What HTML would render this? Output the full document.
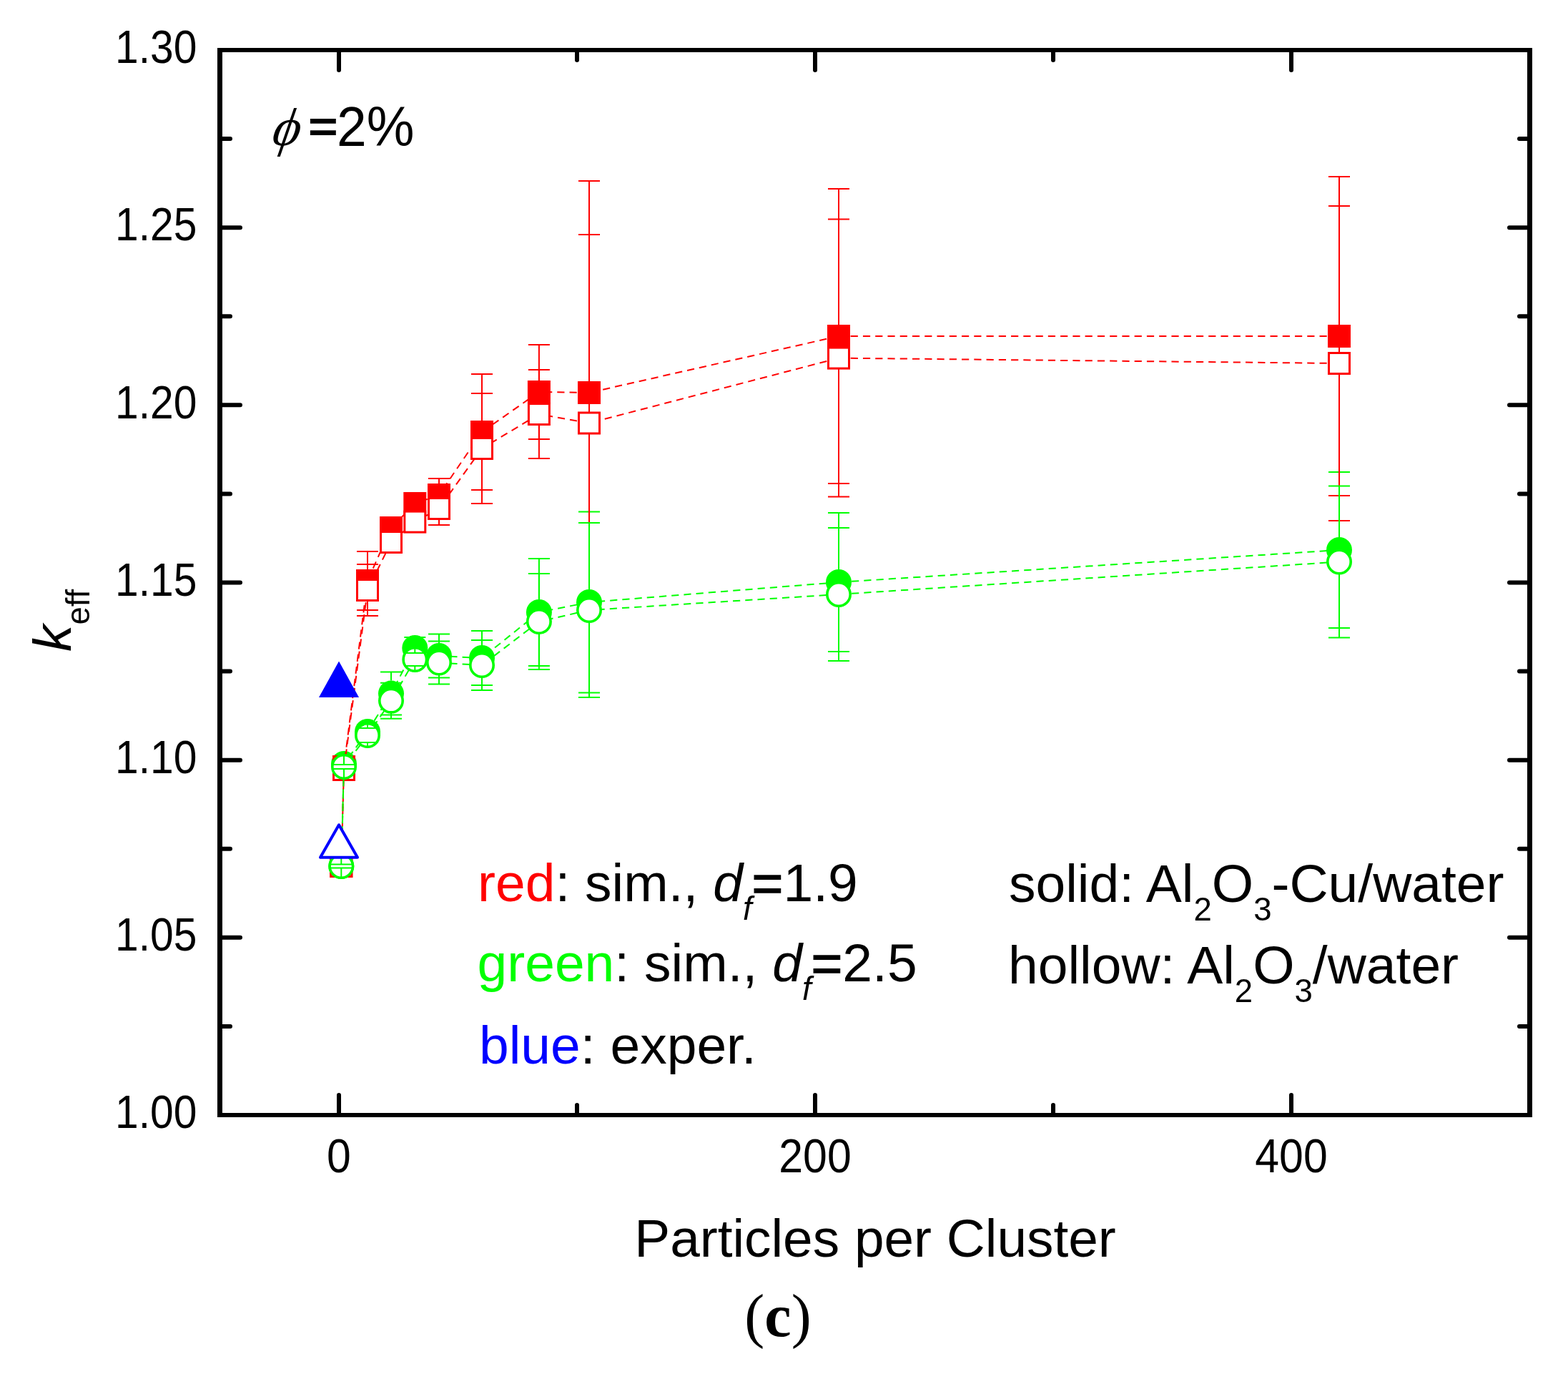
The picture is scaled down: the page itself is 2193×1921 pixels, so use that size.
<!DOCTYPE html>
<html><head><meta charset="utf-8"><title>k_eff vs Particles per Cluster</title>
<style>html,body{margin:0;padding:0;background:#fff;overflow:hidden}svg{display:block}</style>
</head><body>
<svg width="2193" height="1921" viewBox="0 0 2193 1921">
<rect width="2193" height="1921" fill="#fff"/>
<g id="data">
<path d="M481 1068L477.3 1211M514 1023L481 1068M547 969.6L514 1023M580.3 906L547 969.6M614 917L580.3 906M674 920L614 917M753.9 856L674 920M824 842L753.9 856M1173 814L824 842M1873 769L1173 814" fill="none" stroke="#00ff00" stroke-width="2" stroke-dasharray="10.2 7.06"/>
<circle cx="477.3" cy="1211" r="18" fill="#00ff00"/><circle cx="481" cy="1068" r="18" fill="#00ff00"/><circle cx="514" cy="1023" r="18" fill="#00ff00"/><circle cx="547" cy="969.6" r="18" fill="#00ff00"/><circle cx="580.3" cy="906" r="18" fill="#00ff00"/><circle cx="614" cy="917" r="18" fill="#00ff00"/><circle cx="674" cy="920" r="18" fill="#00ff00"/><circle cx="753.9" cy="856" r="18" fill="#00ff00"/><circle cx="824" cy="842" r="18" fill="#00ff00"/><circle cx="1173" cy="814" r="18" fill="#00ff00"/><circle cx="1873" cy="769" r="18" fill="#00ff00"/>
<path d="M477.3 1193V1209M477.3 1229V1213M462.3 1209h30M462.3 1213h30M481 1050V1065M481 1086V1071M466 1065h30M466 1071h30M514 1005V1013M514 1041V1033M499 1013h30M499 1033h30M547 951.6V939.6M547 987.6V999.6M532 939.6h30M532 999.6h30M580.3 888V891M580.3 924V921M565.3 891h30M565.3 921h30M614 899V886.5M614 935V947.5M599 886.5h30M599 947.5h30M674 902V882M674 938V958M659 882h30M659 958h30M753.9 838V781M753.9 874V931M738.9 781h30M738.9 931h30M824 824V715.5M824 860V968.5M809 715.5h30M809 968.5h30M1173 796V717M1173 832V911M1158 717h30M1158 911h30M1873 751V660M1873 787V878M1858 660h30M1858 878h30" fill="none" stroke="#00ff00" stroke-width="2"/>
<path d="M481 1072L477.3 1211M514 812L481 1072M547 738L514 812M580.3 704L547 738M614 692L580.3 704M674 604L614 692M753.9 548L674 604M824 549L753.9 548M1173 470L824 549M1873 470L1173 470" fill="none" stroke="#ff0000" stroke-width="2" stroke-dasharray="10.2 7.06"/>
<rect x="461.3" y="1195" width="32" height="32" fill="#ff0000"/><rect x="465" y="1056" width="32" height="32" fill="#ff0000"/><rect x="498" y="796" width="32" height="32" fill="#ff0000"/><rect x="531" y="722" width="32" height="32" fill="#ff0000"/><rect x="564.3" y="688" width="32" height="32" fill="#ff0000"/><rect x="598" y="676" width="32" height="32" fill="#ff0000"/><rect x="658" y="588" width="32" height="32" fill="#ff0000"/><rect x="737.9" y="532" width="32" height="32" fill="#ff0000"/><rect x="808" y="533" width="32" height="32" fill="#ff0000"/><rect x="1157" y="454" width="32" height="32" fill="#ff0000"/><rect x="1857" y="454" width="32" height="32" fill="#ff0000"/>
<path d="M514 796V771M514 828V853M499 771h30M499 853h30M614 676V669M614 708V715M599 669h30M599 715h30M674 588V523M674 620V685M659 523h30M659 685h30M753.9 532V482M753.9 564V614M738.9 482h30M738.9 614h30M824 533V253M824 565V845M809 253h30M809 845h30M1173 454V264M1173 486V676M1158 264h30M1158 676h30M1873 454V247M1873 486V693M1858 247h30M1858 693h30" fill="none" stroke="#ff0000" stroke-width="2"/>
<path d="M481 1076L477.3 1211M514 825L481 1076M547 758L514 825M580.3 729.6L547 758M614 711L580.3 729.6M674 627L614 711M753.9 579L674 627M824 591.5L753.9 579M1173 500.6L824 591.5M1873 508L1173 500.6" fill="none" stroke="#ff0000" stroke-width="2" stroke-dasharray="10.2 7.06"/>
<rect x="462.8" y="1196.5" width="29" height="29" fill="#fff" stroke="#ff0000" stroke-width="3"/><rect x="466.5" y="1061.5" width="29" height="29" fill="#fff" stroke="#ff0000" stroke-width="3"/><rect x="499.5" y="810.5" width="29" height="29" fill="#fff" stroke="#ff0000" stroke-width="3"/><rect x="532.5" y="743.5" width="29" height="29" fill="#fff" stroke="#ff0000" stroke-width="3"/><rect x="565.8" y="715.1" width="29" height="29" fill="#fff" stroke="#ff0000" stroke-width="3"/><rect x="599.5" y="696.5" width="29" height="29" fill="#fff" stroke="#ff0000" stroke-width="3"/><rect x="659.5" y="612.5" width="29" height="29" fill="#fff" stroke="#ff0000" stroke-width="3"/><rect x="739.4" y="564.5" width="29" height="29" fill="#fff" stroke="#ff0000" stroke-width="3"/><rect x="809.5" y="577" width="29" height="29" fill="#fff" stroke="#ff0000" stroke-width="3"/><rect x="1158.5" y="486.1" width="29" height="29" fill="#fff" stroke="#ff0000" stroke-width="3"/><rect x="1858.5" y="493.5" width="29" height="29" fill="#fff" stroke="#ff0000" stroke-width="3"/>
<path d="M514 809V789M514 841V861M499 789h30M499 861h30M614 695V688M614 727V734M599 688h30M599 734h30M674 611V550M674 643V704M659 550h30M659 704h30M753.9 563V517M753.9 595V641M738.9 517h30M738.9 641h30M824 575.5V328M824 607.5V855M809 328h30M809 855h30M1173 484.6V306.6M1173 516.6V694.6M1158 306.6h30M1158 694.6h30M1873 492V288M1873 524V728M1858 288h30M1858 728h30" fill="none" stroke="#ff0000" stroke-width="2"/>
<path d="M481 1072L477.3 1211M514 1028L481 1072M547 979.7L514 1028M580.3 922L547 979.7M614 926.5L580.3 922M674 930L614 926.5M753.9 869L674 930M824 853L753.9 869M1173 831L824 853M1873 785.5L1173 831" fill="none" stroke="#00ff00" stroke-width="2" stroke-dasharray="10.2 7.06"/>
<circle cx="477.3" cy="1211" r="16.2" fill="#fff" stroke="#00ff00" stroke-width="3.6"/><circle cx="481" cy="1072" r="16.2" fill="#fff" stroke="#00ff00" stroke-width="3.6"/><circle cx="514" cy="1028" r="16.2" fill="#fff" stroke="#00ff00" stroke-width="3.6"/><circle cx="547" cy="979.7" r="16.2" fill="#fff" stroke="#00ff00" stroke-width="3.6"/><circle cx="580.3" cy="922" r="16.2" fill="#fff" stroke="#00ff00" stroke-width="3.6"/><circle cx="614" cy="926.5" r="16.2" fill="#fff" stroke="#00ff00" stroke-width="3.6"/><circle cx="674" cy="930" r="16.2" fill="#fff" stroke="#00ff00" stroke-width="3.6"/><circle cx="753.9" cy="869" r="16.2" fill="#fff" stroke="#00ff00" stroke-width="3.6"/><circle cx="824" cy="853" r="16.2" fill="#fff" stroke="#00ff00" stroke-width="3.6"/><circle cx="1173" cy="831" r="16.2" fill="#fff" stroke="#00ff00" stroke-width="3.6"/><circle cx="1873" cy="785.5" r="16.2" fill="#fff" stroke="#00ff00" stroke-width="3.6"/>
<path d="M477.3 1193V1208.5M477.3 1229V1213.5M462.3 1208.5h30M462.3 1213.5h30M481 1054V1069M481 1090V1075M466 1069h30M466 1075h30M514 1010V1018M514 1046V1038M499 1018h30M499 1038h30M547 961.7V954.7M547 997.7V1004.7M532 954.7h30M532 1004.7h30M580.3 904V913M580.3 940V931M565.3 913h30M565.3 931h30M614 908.5V896.5M614 944.5V956.5M599 896.5h30M599 956.5h30M674 912V895M674 948V965M659 895h30M659 965h30M753.9 851V802M753.9 887V936M738.9 802h30M738.9 936h30M824 835V731M824 871V975M809 731h30M809 975h30M1173 813V738M1173 849V924M1158 738h30M1158 924h30M1873 767.5V679.5M1873 803.5V891.5M1858 679.5h30M1858 891.5h30" fill="none" stroke="#00ff00" stroke-width="2"/>
<polygon points="474,924.5 446,975 502,975" fill="#0000ff"/>
<polygon points="474,1153.3 448,1198.8 500,1198.8" fill="#fff" stroke="#0000ff" stroke-width="4" stroke-linejoin="round"/>
</g>
<g id="axes">
<path d="M307.5 67V1562M2139.5 67V1562" stroke="#000" stroke-width="7"/>
<path d="M304 70H2143M304 1559H2143" stroke="#000" stroke-width="6"/>
<path d="M311 1434.92h11M2136 1434.92h-11M311 1310.83h25M2136 1310.83h-25M311 1186.75h11M2136 1186.75h-11M311 1062.67h25M2136 1062.67h-25M311 938.58h11M2136 938.58h-11M311 814.5h25M2136 814.5h-25M311 690.42h11M2136 690.42h-11M311 566.33h25M2136 566.33h-25M311 442.25h11M2136 442.25h-11M311 318.17h25M2136 318.17h-25M311 194.08h11M2136 194.08h-11M474 1556v-25M474 73v25M807 1556v-11M807 73v11M1140 1556v-25M1140 73v25M1473 1556v-11M1473 73v11M1806 1556v-25M1806 73v25" stroke="#000" stroke-width="6" stroke-linecap="round" fill="none"/>
</g>
<g font-family="'Liberation Sans', Arial, sans-serif" fill="#000">
<g font-size="61" text-anchor="end"><text transform="translate(275.5 1577.3) scale(0.964 1.048)">1.00</text><text transform="translate(275.5 1329.13) scale(0.964 1.048)">1.05</text><text transform="translate(275.5 1080.97) scale(0.964 1.048)">1.10</text><text transform="translate(275.5 832.8) scale(0.964 1.048)">1.15</text><text transform="translate(275.5 584.63) scale(0.964 1.048)">1.20</text><text transform="translate(275.5 336.47) scale(0.964 1.048)">1.25</text><text transform="translate(275.5 88.3) scale(0.964 1.048)">1.30</text></g>
<g font-size="62" text-anchor="middle"><text transform="translate(474 1639) scale(0.98 1.07)">0</text><text transform="translate(1140 1639) scale(0.98 1.07)">200</text><text transform="translate(1806 1639) scale(0.98 1.07)">400</text></g>
<text x="1224" y="1757" font-size="74.8" text-anchor="middle">Particles per Cluster</text>
<text transform="translate(99 911) rotate(-90)" font-size="75"><tspan font-style="italic">k</tspan><tspan font-size="45.5" dy="26">eff</tspan></text>
<text transform="translate(375.5 203) skewX(-19)" font-family="'Liberation Serif', serif" font-size="75">&#x3D5;</text>
<text transform="translate(431.6 198.7) scale(0.93 0.87)" font-size="75" stroke="#000" stroke-width="2.2">=</text>
<text transform="translate(471 204) scale(1 1.04)" font-size="75">2%</text>
<g font-size="75">
<text x="668" y="1259.5"><tspan fill="#ff0000">red</tspan>: sim., <tspan font-style="italic">d</tspan><tspan font-style="italic" font-size="45.5" dy="26">f</tspan><tspan dy="-26" stroke="#000" stroke-width="1.3">=</tspan>1.9</text>
<text x="667.5" y="1372"><tspan fill="#00ff00">green</tspan>: sim., <tspan font-style="italic">d</tspan><tspan font-style="italic" font-size="45.5" dy="26">f</tspan><tspan dy="-26" stroke="#000" stroke-width="1.3">=</tspan>2.5</text>
<text x="670" y="1486.5"><tspan fill="#0000ff">blue</tspan>: exper.</text>
<text x="1411" y="1261">solid: Al<tspan font-size="45.5" dy="26">2</tspan><tspan dy="-26">O</tspan><tspan font-size="45.5" dy="26">3</tspan><tspan dy="-26">-Cu/water</tspan></text>
<text x="1410" y="1374.7">hollow: Al<tspan font-size="45.5" dy="26">2</tspan><tspan dy="-26">O</tspan><tspan font-size="45.5" dy="26">3</tspan><tspan dy="-26">/water</tspan></text>
</g>
</g>
<text x="1088" y="1868" font-family="'Liberation Serif', 'Times New Roman', serif" font-size="84" text-anchor="middle">(<tspan font-weight="bold">c</tspan>)</text>
</svg>
</body></html>
